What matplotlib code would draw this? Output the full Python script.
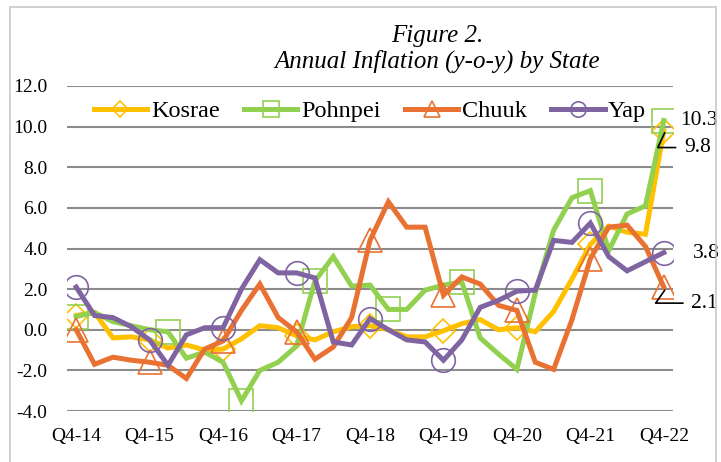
"""
Figure 2: Annual inflation (y-o-y) by state, quarterly line chart.
"""

import matplotlib
matplotlib.use('Agg')
import matplotlib.pyplot as plt
from matplotlib.patches import Rectangle

# quarters Q4-14 .. Q4-22
quarters = [f"Q{q}-{y}" for y in range(14, 23) for q in (1, 2, 3, 4)][3:]
tick_labels = ["Q4-14", "Q4-15", "Q4-16", "Q4-17", "Q4-18",
               "Q4-19", "Q4-20", "Q4-21", "Q4-22"]

kosrae = [0.7, 0.85, -0.4, -0.35, -0.5, -0.9, -0.75, -1.0, -0.95,
          -0.45, 0.2, 0.1, -0.3, -0.5, -0.1, 0.15, 0.2, 0.0, -0.35,
          -0.35, -0.05, 0.3, 0.5, 0.0, 0.1, -0.1, 0.9, 2.5, 4.2,
          5.1, 4.8, 4.7, 9.8]
pohnpei = [0.65, 0.85, 0.4, 0.2, 0.0, -0.1, -1.4, -1.1, -1.6,
           -3.5, -2.0, -1.6, -0.8, 2.4, 3.6, 2.15, 2.2, 1.0, 1.0,
           1.95, 2.2, 2.35, -0.4, -1.2, -1.95, 1.8, 4.9, 6.5, 6.85,
           3.9, 5.7, 6.1, 10.3]
chuuk = [0.0, -1.7, -1.35, -1.5, -1.6, -1.75, -2.4, -0.95, -0.55,
         0.95, 2.25, 0.6, -0.1, -1.45, -0.85, 0.6, 4.4, 6.3, 5.05,
         5.05, 1.7, 2.6, 2.25, 1.2, 0.95, -1.6, -1.95, 0.5, 3.5,
         5.05, 5.15, 4.1, 2.1]
yap = [2.1, 0.7, 0.6, 0.15, -0.5, -1.75, -0.25, 0.1, 0.1,
       2.0, 3.45, 2.8, 2.8, 2.55, -0.6, -0.75, 0.55, 0.0, -0.5,
       -0.6, -1.5, -0.5, 1.1, 1.45, 1.9, 1.95, 4.4, 4.3, 5.25,
       3.6, 2.9, 3.35, 3.8]

series = [
    # name, values, colour, marker, marker size, marker positions
    ("Kosrae", kosrae, "#FFC000", "D", 12, list(range(0, 33, 4))),
    ("Pohnpei", pohnpei, "#92D050", "s", 17, [0, 5, 9, 13, 17, 21, 28, 32]),
    ("Chuuk", chuuk, "#E97132", "^", 17, list(range(0, 33, 4))),
    ("Yap", yap, "#8064A2", "o", 17, list(range(0, 33, 4))),
]

plt.rcParams['font.family'] = ['Liberation Serif', 'DejaVu Serif']

fig = plt.figure(figsize=(7.21, 4.62), dpi=100)
fig.patches.append(Rectangle((10 / 721, -0.05), 706 / 721, 1 - 7 / 462 + 0.05,
                             transform=fig.transFigure, fill=False,
                             edgecolor='#c8c8c8', linewidth=1.2))

ax = fig.add_axes([67 / 721, 1 - 411 / 462, 606 / 721, 325 / 462])
x = list(range(len(quarters)))

for name, vals, color, marker, ms, marks in series:
    ax.plot(x, vals, color=color, linewidth=3.6, marker=marker,
            markersize=ms, markerfacecolor='none', markeredgecolor=color,
            markeredgewidth=1.2, markevery=marks, label=name,
            solid_joinstyle='miter', zorder=3)

ax.set_xlim(-0.5, len(quarters) - 0.5)
ax.set_ylim(-4, 12)
ax.set_yticks(range(-4, 13, 2))
ax.set_yticklabels([f"{v:.1f}" for v in range(-4, 13, 2)])
ax.set_xticks(range(0, len(quarters), 4))
ax.set_xticklabels(tick_labels)
ax.tick_params(axis='both', length=0, labelsize=14)
ax.tick_params(axis='y', pad=14)
ax.tick_params(axis='x', pad=12)
ax.grid(axis='y', color='#8c8c8c', linewidth=1.5)
ax.set_axisbelow(True)
for s in ax.spines.values():
    s.set_visible(False)

leg = ax.legend(loc='center', bbox_to_anchor=(0.5, 0.923), ncol=4,
                frameon=False, fontsize=17.5, handlelength=2.2,
                handletextpad=0.15, columnspacing=1.0, markerscale=0.65,
                borderaxespad=0)

# end-of-series data labels
last = len(quarters) - 1
ax.annotate(f"{pohnpei[-1]:.1f}", xy=(last, pohnpei[-1]), xytext=(32.9, 10.3),
            fontsize=15.5, va='center', ha='left', annotation_clip=False)
ax.annotate(f"{yap[-1]:.1f}", xy=(last, yap[-1]), xytext=(33.6, 3.75),
            fontsize=15.5, va='center', ha='left', annotation_clip=False)
ax.annotate(f"{kosrae[-1]:.1f}", xy=(last + 0.05, kosrae[-1] - 0.1),
            xytext=(33.1, 8.97), fontsize=15.5, va='center', ha='left',
            annotation_clip=False,
            arrowprops=dict(arrowstyle='-', color='black', lw=1.2,
                            shrinkA=4, shrinkB=0, relpos=(0, 0.5),
                            connectionstyle='angle,angleA=180,angleB=-115,rad=0'))
ax.annotate(f"{chuuk[-1]:.1f}", xy=(last + 0.05, 1.95),
            xytext=(33.5, 1.31), fontsize=15.5, va='center', ha='left',
            annotation_clip=False,
            arrowprops=dict(arrowstyle='-', color='black', lw=1.2,
                            shrinkA=4, shrinkB=0, relpos=(0, 0.5),
                            connectionstyle='angle,angleA=180,angleB=-125,rad=0'))

fig.text(437 / 721, 1 - 49 / 462, "Figure 2.\nAnnual Inflation (y-o-y) by State",
         ha='center', va='center', fontsize=18, style='italic', linespacing=1.15)

fig.savefig("out.png", dpi=100)
plt.close(fig)
